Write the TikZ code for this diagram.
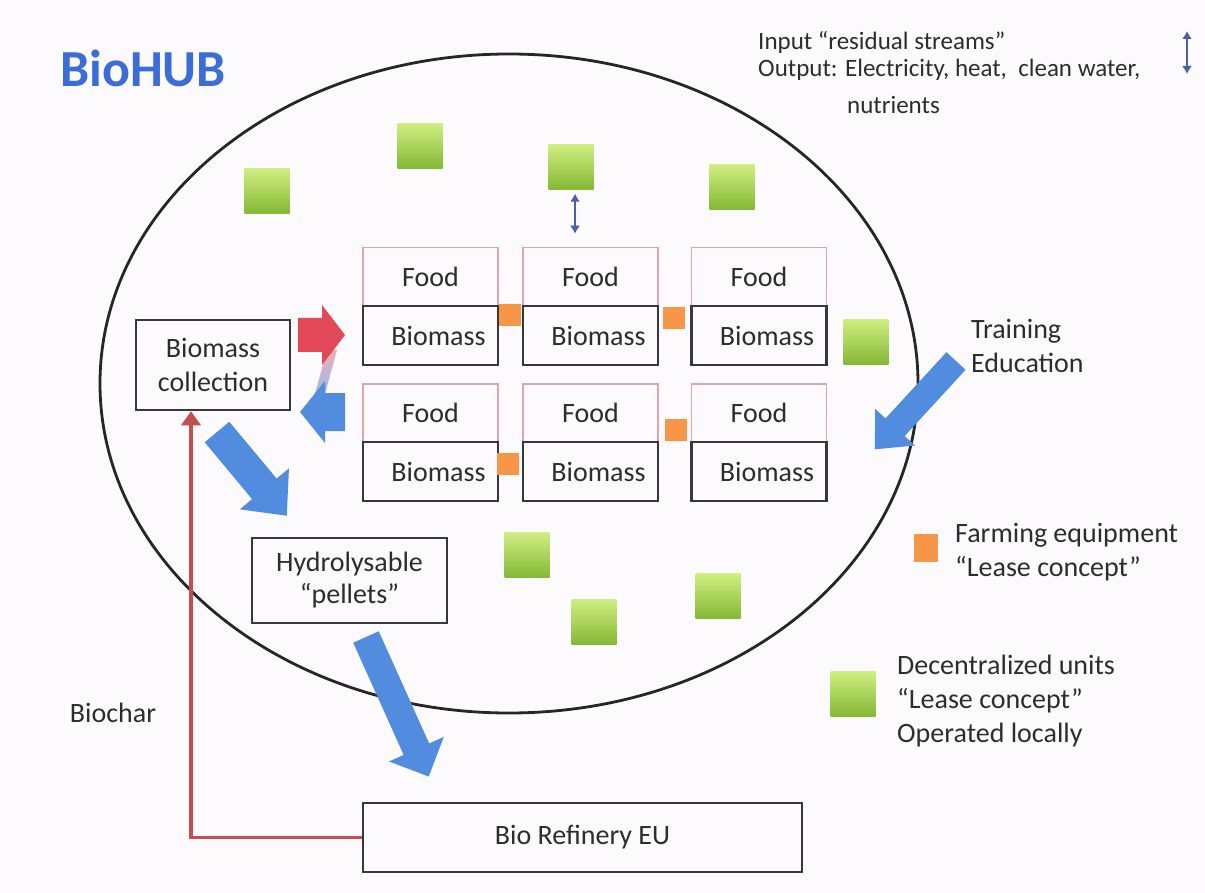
\documentclass[tikz,border=0pt]{standalone}
\usepackage{fontspec}
\setmainfont{Carlito}
\usetikzlibrary{arrows.meta,calc}
\definecolor{bg}{RGB}{253,250,253}
\definecolor{txt}{RGB}{45,45,48}
\definecolor{hubblue}{RGB}{58,108,218}
\definecolor{arrblue}{RGB}{82,140,222}
\definecolor{arrred}{RGB}{226,72,88}
\definecolor{linered}{RGB}{196,78,82}
\definecolor{foodpink}{RGB}{228,165,170}
\definecolor{boxgray}{RGB}{55,55,60}
\definecolor{gtop}{RGB}{208,238,130}
\definecolor{gbot}{RGB}{132,184,52}
\definecolor{orng}{RGB}{246,150,70}
\definecolor{dblue}{RGB}{75,95,165}
\newcommand{\blockarr}[8]{\begin{scope}[shift={(#2,#3)},rotate=#4]\fill[#1] (0,-#6) -- ({#5-#8},-#6) -- ({#5-#8},-#7) -- (#5,0) -- ({#5-#8},#7) -- ({#5-#8},#6) -- (0,#6) -- cycle;\end{scope}}
\begin{document}
\begin{tikzpicture}[x=1pt,y=-1pt,
  txtfont/.style={font=\fontsize{28}{34}\selectfont, text=txt},
  food/.style={draw=foodpink, line width=1.5pt, minimum width=135pt, minimum height=58pt, inner sep=0pt, txtfont},
  bmass/.style={draw=boxgray, line width=2.6pt, minimum width=135pt, minimum height=59pt, inner sep=0pt, txtfont},
  procbox/.style={draw=boxgray, line width=2.6pt, inner sep=0pt, txtfont, align=center},
  unit/.style={minimum size=45pt, inner sep=0pt, top color=gtop, bottom color=gbot},
  equip/.style={minimum size=22pt, inner sep=0pt, fill=orng},
  dbl/.style={draw=dblue, line width=2pt, {Latex[length=8pt,width=10pt]}-{Latex[length=8pt,width=10pt]}},
  biochar/.style={draw=linered, line width=3.6pt, -{Triangle[length=14pt,width=19pt]}},
  hubline/.style={draw=black!85, line width=2.8pt}]
\fill[bg] (0,0) rectangle (1205,893);
\useasboundingbox (0,0) rectangle (1205,893);
% hub ellipse
\draw[hubline] (509,383.5) ellipse [x radius=409, y radius=329.5];
% title
\node[anchor=north west, inner sep=0pt, font=\fontsize{52}{60}\selectfont\bfseries, text=hubblue] (title) at (60,50) {BioHUB};
% top right
\node[anchor=north west, inner sep=0pt, font=\fontsize{25}{27}\selectfont, text=txt, align=left] (io) at (758,31) {Input “residual streams”\\Output: Electricity, heat,\ \ clean water,\\[10pt]\hspace*{89pt}nutrients};
\coordinate (lt) at (1187,31);
\coordinate (lb) at (1187,74);
\draw[dbl] (lt) -- (lb);
% food / biomass grid
\foreach \c/\x in {1/430.5,2/590.5,3/759}{
  \node[food] (f1\c) at (\x,276.5) {Food};
  \node[food] (f2\c) at (\x,413) {Food};
}
\foreach \c/\x in {1/430.5,2/590.5,3/759}{
  \node[bmass] (b1\c) at (\x,335.5) {\hspace*{16pt}Biomass};
  \node[bmass] (b2\c) at (\x,471.5) {\hspace*{16pt}Biomass};
}
% equipment
\node[equip] (e1) at (510,315) {};
\node[equip] (e2) at (674,318) {};
\node[equip] (e3) at (676,430) {};
\node[equip] (e4) at (508,464) {};
% units
\node[unit] (g1) at (267,191) {};
\node[unit] (g2) at (420,146) {};
\node[unit] (g3) at (571,167) {};
\node[unit] (g4) at (732,187) {};
\node[unit] (g5) at (866,342) {};
\node[unit] (g6) at (527,555) {};
\node[unit] (g7) at (594,622) {};
\node[unit] (g8) at (718,596) {};
\draw[dbl, shorten <=4pt, shorten >=13pt] ([xshift=4pt]g3.south) -- ([xshift=4pt]g3.south |- f12.north);
% process boxes
\node[procbox, minimum width=154pt, minimum height=90pt] (coll) at (213,365) {Biomass\\collection};
\node[procbox, minimum width=195pt, minimum height=85pt, font=\fontsize{28}{32}\selectfont] (pell) at (349.5,580.5) {Hydrolysable\\“pellets”};
\node[procbox, minimum width=439pt, minimum height=69pt] (ref) at (582.5,837.5) {Bio Refinery EU};
% block arrows
\shade[top color=arrred!45!white, bottom color=arrblue!60!white] (327,350) -- (337,350) -- (325,394) -- (315,394) -- cycle;
\blockarr{fill=arrred}{298}{335}{0}{47}{17}{30}{23}
\blockarr{fill=arrblue}{345}{412}{180}{45}{19}{31}{25}
\blockarr{fill=arrblue}{217}{432}{-50.2}{109}{16}{32}{35}
\blockarr{fill=arrblue}{366}{637}{-65.8}{153}{14}{30}{30}
\blockarr{fill=arrblue}{956}{361}{-132.6}{120}{13}{27}{30}
% biochar loop
\draw[biochar] (ref.west) -| ([xshift=-22pt]coll.south);
\node[txtfont, inner sep=0pt] (bchar) at (113,713) {Biochar};
% training
\node[anchor=north west, inner sep=0pt, txtfont, align=left] (train) at (971,319) {Training\\Education};
% legend
\node[equip, minimum width=24pt, minimum height=28pt] (legE) at (926,548) {};
\node[anchor=north west, inner sep=0pt, txtfont, align=left] (legEt) at (955,523) {Farming equipment\\“Lease concept”};
\node[unit] (legG) at (853,694) {};
\node[anchor=north west, inner sep=0pt, txtfont, align=left] (legGt) at (897,655) {Decentralized units\\“Lease concept”\\Operated locally};
\end{tikzpicture}
\end{document}
